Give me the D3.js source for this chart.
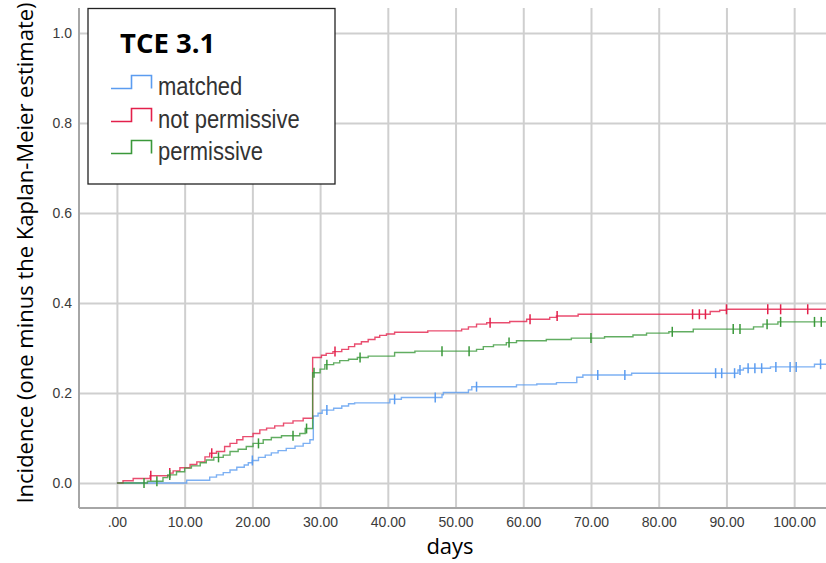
<!DOCTYPE html>
<html>
<head>
<meta charset="utf-8">
<script src="https://cdn.jsdelivr.net/npm/d3@7"></script>
<style>
  body { margin: 0; background: #fff; }
</style>
</head>
<body>
<div id="chart"></div>
<script>
// days and cumulative incidence right after each step
const matchedDays = [0, 10.3, 13.7, 14.7, 15.7, 16.7, 17.7, 18.8, 19.4, 20.0, 20.9, 21.9, 22.8, 23.8, 25.0, 26.3, 27.5, 28.5, 29.0, 29.7, 30.3, 32.0, 33.2, 34.2, 35.1, 40.3, 42.0, 48.0, 48.2, 51.9, 52.4, 59.0, 62.0, 64.9, 67.9, 68.8, 76.0, 91.7, 92.5, 96.5, 103.0];
const matchedInc = [0, 0.006, 0.013, 0.018, 0.023, 0.029, 0.035, 0.040, 0.045, 0.050, 0.057, 0.062, 0.067, 0.072, 0.077, 0.082, 0.088, 0.096, 0.149, 0.155, 0.162, 0.166, 0.171, 0.176, 0.178, 0.186, 0.190, 0.196, 0.201, 0.207, 0.214, 0.218, 0.220, 0.223, 0.235, 0.240, 0.244, 0.251, 0.255, 0.258, 0.264];
const matchedCensored = [20.0, 31.0, 41.0, 47.0, 53.1, 71.0, 75.0, 88.4, 89.3, 91.2, 92.0, 93.2, 94.2, 95.2, 97.3, 99.4, 100.3, 103.9];

const notPermDays = [0, 0.9, 2.4, 4.9, 7.8, 8.3, 9.3, 10.8, 11.8, 13.0, 13.7, 14.7, 15.9, 16.7, 17.7, 18.6, 20.1, 21.1, 22.1, 23.3, 24.6, 26.0, 27.5, 28.9, 30.2, 30.9, 31.9, 33.2, 34.2, 35.1, 36.1, 37.1, 38.1, 38.8, 39.8, 41.0, 45.9, 50.9, 51.9, 53.1, 54.6, 58.0, 60.5, 63.9, 64.9, 68.1, 87.6, 89.0, 90.0];
const notPermInc = [0, 0.005, 0.010, 0.016, 0.022, 0.027, 0.034, 0.041, 0.047, 0.058, 0.066, 0.070, 0.081, 0.088, 0.096, 0.103, 0.110, 0.118, 0.122, 0.127, 0.133, 0.138, 0.144, 0.279, 0.284, 0.288, 0.292, 0.297, 0.303, 0.309, 0.314, 0.319, 0.324, 0.328, 0.331, 0.335, 0.338, 0.342, 0.347, 0.353, 0.356, 0.359, 0.364, 0.368, 0.371, 0.375, 0.381, 0.384, 0.386];
const notPermCensored = [5.0, 7.8, 14.0, 32.2, 55.1, 61.0, 65.0, 85.0, 86.0, 86.9, 90.0, 96.1, 98.0, 102.0];

const permDays = [0, 4.5, 6.8, 7.5, 8.8, 10.0, 11.0, 12.3, 13.2, 14.3, 15.7, 16.7, 17.9, 19.1, 20.1, 21.6, 22.8, 24.3, 27.0, 27.8, 28.9, 30.0, 30.7, 32.0, 32.9, 34.2, 35.5, 37.1, 41.0, 44.0, 53.1, 54.1, 55.6, 57.5, 59.0, 63.4, 67.1, 72.0, 76.2, 78.2, 81.5, 85.1, 94.0, 95.4, 97.6];
const permInc = [0, 0.004, 0.012, 0.018, 0.025, 0.033, 0.038, 0.045, 0.051, 0.057, 0.062, 0.070, 0.075, 0.081, 0.088, 0.096, 0.101, 0.105, 0.110, 0.121, 0.245, 0.253, 0.263, 0.267, 0.272, 0.275, 0.279, 0.282, 0.290, 0.293, 0.297, 0.303, 0.307, 0.312, 0.316, 0.319, 0.322, 0.325, 0.329, 0.333, 0.336, 0.342, 0.347, 0.353, 0.358];
const permCensored = [4.0, 5.9, 7.8, 15.0, 20.9, 26.0, 28.0, 29.1, 31.0, 35.9, 48.0, 52.0, 57.9, 70.0, 82.0, 91.0, 92.0, 96.0, 98.0, 103.0, 104.0];

const seriesNames = ["matched", "not permissive", "permissive"];
const seriesColors = ["#5b9cf0", "#e3204b", "#3a983a"];

const xTicks = [0, 10, 20, 30, 40, 50, 60, 70, 80, 90, 100];
const xTickLabels = [".00", "10.00", "20.00", "30.00", "40.00", "50.00", "60.00", "70.00", "80.00", "90.00", "100.00"];
const yTicks = [0, 0.2, 0.4, 0.6, 0.8, 1.0];
const yTickLabels = ["0.0", "0.2", "0.4", "0.6", "0.8", "1.0"];

const W = 826, H = 563;
const plot = {left: 79, right: 826, top: 8, bottom: 508};

const svg = d3.select("#chart").append("svg")
    .attr("width", W)
    .attr("height", H)
    .style("background", "#fff");

const x = d3.scaleLinear().domain([-5.6, 104.7]).range([plot.left, plot.right]);
const y = d3.scaleLinear().domain([-0.0556, 1.0556]).range([plot.bottom, plot.top]);

// grid via axes
const xAxis = svg.append("g")
    .attr("transform", "translate(0," + plot.bottom + ")")
    .call(d3.axisBottom(x)
        .tickValues(xTicks)
        .tickFormat((d, i) => xTickLabels[i])
        .tickSizeInner(-(plot.bottom - plot.top))
        .tickSizeOuter(0)
        .tickPadding(9));

const yAxis = svg.append("g")
    .attr("transform", "translate(" + plot.left + ",0)")
    .call(d3.axisLeft(y)
        .tickValues(yTicks)
        .tickFormat((d, i) => yTickLabels[i])
        .tickSizeInner(-(plot.right - plot.left))
        .tickSizeOuter(0)
        .tickPadding(7));

[xAxis, yAxis].forEach(g => {
  g.select(".domain").remove();
  g.selectAll(".tick line").attr("stroke", "#cfcfcf").attr("stroke-width", 2);
  g.selectAll(".tick text")
    .attr("fill", "#3a3a3a")
    .style("font-family", "'Liberation Sans', Arial, sans-serif")
    .style("font-size", "14px");
});

// axis lines
svg.append("line")
    .attr("x1", plot.left).attr("x2", plot.left).attr("y1", plot.top).attr("y2", plot.bottom)
    .attr("stroke", "#a6a6a6").attr("stroke-width", 2);
svg.append("line")
    .attr("x1", plot.left).attr("x2", plot.right).attr("y1", plot.bottom).attr("y2", plot.bottom)
    .attr("stroke", "#a6a6a6").attr("stroke-width", 2);

// curves
const series = [
  {days: matchedDays, inc: matchedInc, cens: matchedCensored},
  {days: notPermDays, inc: notPermInc, cens: notPermCensored},
  {days: permDays, inc: permInc, cens: permCensored}
];

const line = d3.line()
    .x(d => x(d[0]))
    .y(d => y(d[1]))
    .curve(d3.curveStepAfter);

series.forEach((s, k) => {
  let pts = s.days.map((d, i) => [d, s.inc[i]]);
  pts.push([x.domain()[1], s.inc[s.inc.length - 1]]);

  svg.append("path")
      .datum(pts)
      .attr("d", line)
      .attr("fill", "none")
      .attr("stroke", seriesColors[k])
      .attr("stroke-width", 1.4)
      .attr("stroke-opacity", 0.8);

  // censor marks
  svg.selectAll(null)
    .data(s.cens)
    .enter()
    .append("line")
      .attr("x1", d => x(d))
      .attr("x2", d => x(d))
      .attr("y1", d => y(s.inc[d3.bisectRight(s.days, d) - 1]) - 5)
      .attr("y2", d => y(s.inc[d3.bisectRight(s.days, d) - 1]) + 5)
      .attr("stroke", seriesColors[k])
      .attr("stroke-width", 1.5);
});

// legend
const lg = svg.append("g");
lg.append("rect")
    .attr("x", 88).attr("y", 8.5)
    .attr("width", 247).attr("height", 175.5)
    .attr("fill", "#fff")
    .attr("stroke", "#222")
    .attr("stroke-width", 1.3);

lg.append("text")
    .attr("x", 120).attr("y", 53)
    .style("font-family", "'Open Sans', sans-serif")
    .style("font-weight", "bold")
    .style("font-size", "27.5px")
    .attr("fill", "#000")
    .text("TCE 3.1");

const legendBase = [95, 128, 160];
seriesNames.forEach((name, i) => {
  let b = legendBase[i];
  lg.append("path")
      .attr("d", `M111,${b - 6.5}H131.5V${b - 19.5}H151.5V${b - 6.5}`)
      .attr("fill", "none")
      .attr("stroke", seriesColors[i])
      .attr("stroke-width", 1.6);
  lg.append("text")
      .attr("transform", `translate(158,${b}) scale(1,1.2)`)
      .style("font-family", "'Liberation Sans', Arial, sans-serif")
      .style("font-size", "22px")
      .attr("fill", "#333")
      .text(name);
});

// axis titles
svg.append("text")
    .attr("transform", "translate(33,253) rotate(-90)")
    .attr("text-anchor", "middle")
    .style("font-family", "'Open Sans', sans-serif")
    .style("font-size", "22px")
    .attr("fill", "#000")
    .text("Incidence (one minus the Kaplan-Meier estimate)");

svg.append("text")
    .attr("x", 450).attr("y", 554)
    .attr("text-anchor", "middle")
    .style("font-family", "'Open Sans', sans-serif")
    .style("font-size", "22px")
    .attr("fill", "#000")
    .text("days");
</script>
</body>
</html>
